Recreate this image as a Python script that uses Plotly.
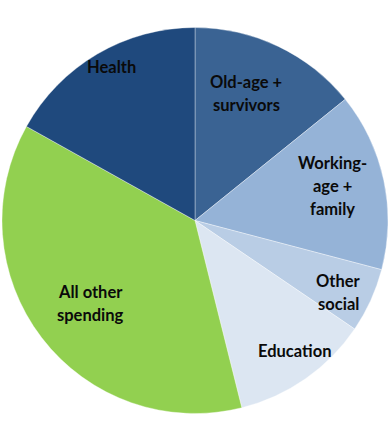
import plotly.graph_objects as go

# Data
categories = ["Old-age + survivors", "Working-age + family", "Other social",
              "Education", "All other spending", "Health"]
shares = [14.2, 14.9, 5.4, 11.6, 37.0, 16.9]
label_lines = [["Old-age +", "survivors"], ["Working-", "age +", "family"],
               ["Other", "social"], ["Education"], ["All other", "spending"], ["Health"]]

colors = ["#3A6393", "#95B3D7", "#B9CDE5", "#DCE6F2", "#92D050", "#1F497D"]

W, H = 388, 423
# label anchor positions (pixels, centre of first line) and line spacing
label_pos = [(246, 82), (332, 163), (338, 281), (294, 351), (90, 292), (112, 67)]
line_gap = 23

fig = go.Figure(go.Pie(
    labels=categories, values=shares, sort=False, direction="clockwise",
    rotation=0, textinfo="none", hoverinfo="label+percent",
    marker=dict(colors=colors, line=dict(color="rgba(255,255,255,0.6)", width=0.6)),
    domain=dict(x=[2 / W, 1], y=[0, 1 - 18 / H]),
    showlegend=False,
))

annotations = []
for lines, (px, py) in zip(label_lines, label_pos):
    for i, ln in enumerate(lines):
        annotations.append(dict(
            x=px / W, y=1 - (py + i * line_gap) / H, xref="paper", yref="paper",
            text="<b>" + ln + "</b>", showarrow=False, xanchor="center", yanchor="middle",
            font=dict(family="Lato", size=16.5, color="#0a0a0a"),
        ))

fig.update_layout(
    width=W, height=H, margin=dict(l=0, r=0, t=0, b=0),
    paper_bgcolor="white", plot_bgcolor="white",
    annotations=annotations,
)

fig.write_html("out.html")
